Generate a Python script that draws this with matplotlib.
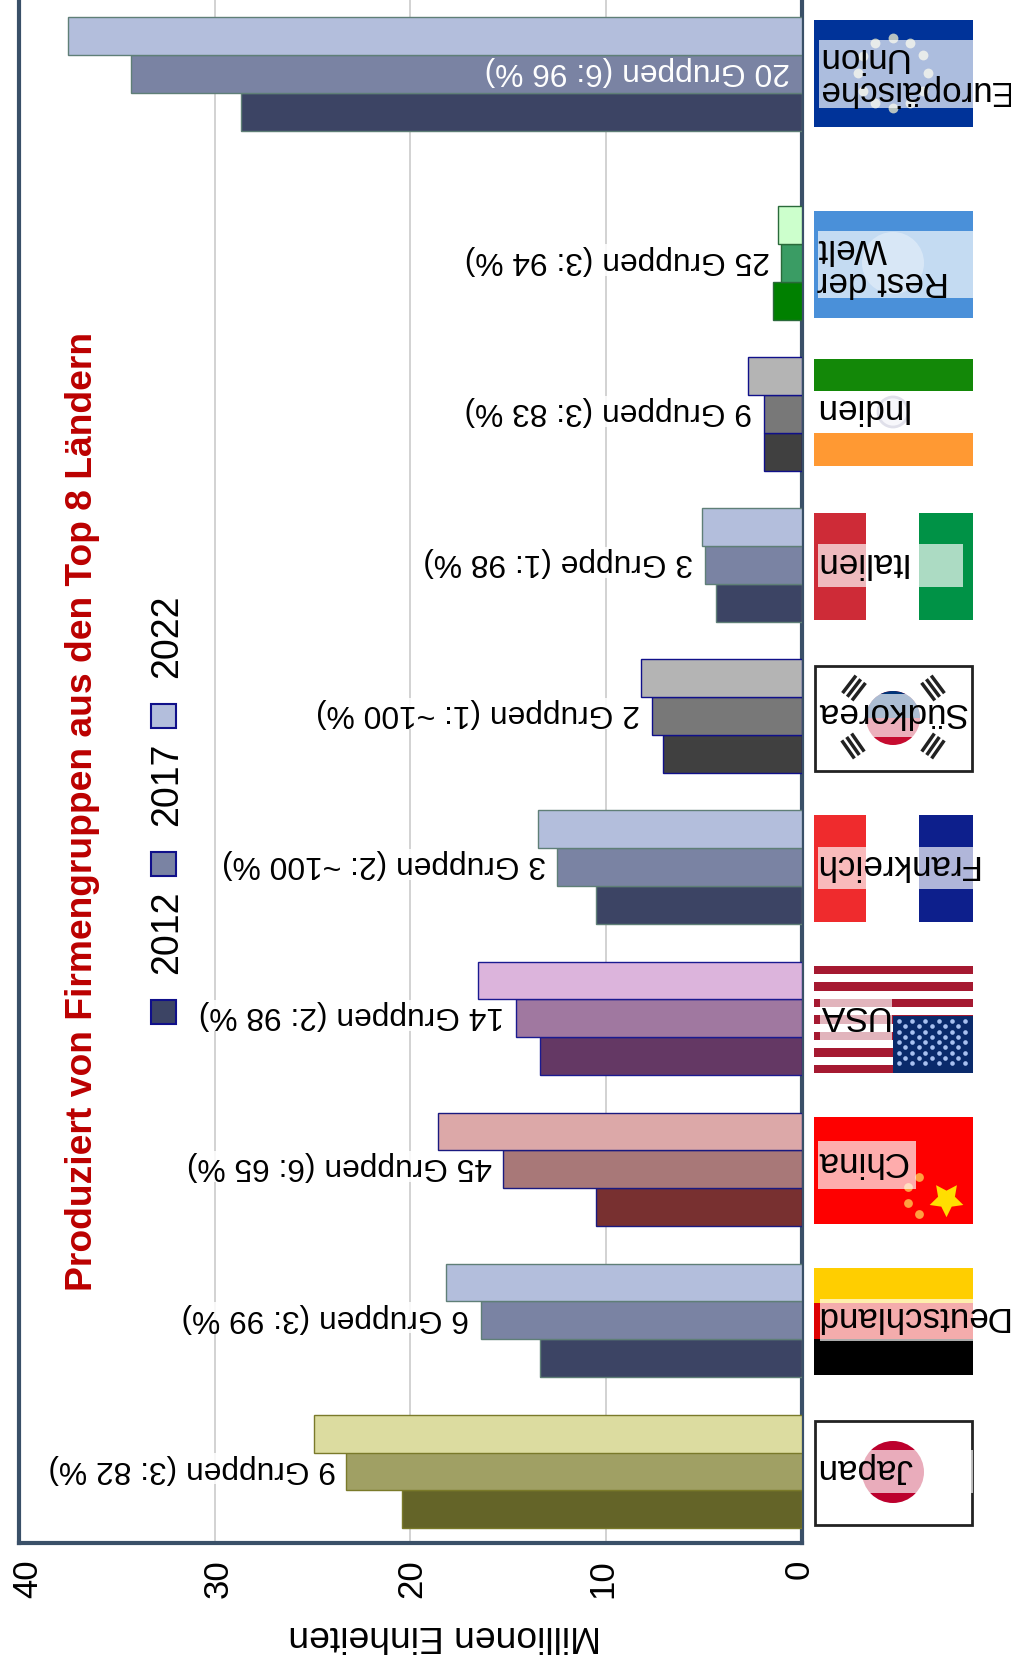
import numpy as np
import matplotlib
matplotlib.use("Agg")
import matplotlib.pyplot as plt
from matplotlib.patches import Rectangle, Circle, Wedge
from matplotlib.transforms import ScaledTranslation

plt.rcParams['font.family'] = ['Liberation Sans', 'DejaVu Sans']

countries = ["Japan", "Deutschland", "China", "USA", "Frankreich", "Südkorea",
             "Italien", "Indien", "Rest der\nWelt", "Europäische\nUnion"]
positions = [0, 1, 2, 3, 4, 5, 6, 7, 8, 9.25]
years = ["2012", "2017", "2022"]
v2012 = [20.45, 13.4, 10.5, 13.4, 10.5, 7.1, 4.4, 1.95, 1.5, 28.65]
v2017 = [23.3, 16.4, 15.25, 14.6, 12.5, 7.65, 4.95, 1.95, 1.05, 34.3]
v2022 = [24.95, 18.2, 18.6, 16.55, 13.5, 8.2, 5.1, 2.75, 1.25, 37.5]
group_labels = ["9 Gruppen (3: 82 %)", "6 Gruppen (3: 99 %)", "45 Gruppen (6: 65 %)",
                "14 Gruppen (2: 98 %)", "3 Gruppen (2: ~100 %)", "2 Gruppen (1: ~100 %)",
                "3 Gruppe (1: 98 %)", "9 Gruppen (3: 83 %)", "25 Gruppen (3: 94 %)",
                "20 Gruppen (6: 96 %)"]

BLUE = ["#3c4464", "#7a83a3", "#b3bedc"]
palettes = [["#646428", "#a0a064", "#dcdca0"], BLUE, ["#783030", "#a87878", "#dca8a8"],
            ["#643864", "#a078a0", "#dcb4dc"], BLUE, ["#404040", "#787878", "#b4b4b4"],
            BLUE, ["#404040", "#787878", "#b4b4b4"], ["#008000", "#3a9c64", "#ccffcc"], BLUE]
edges = ["#7a7a2a", "#5f7f77", "#1a1a80", "#1a1a90", "#5f7f77", "#10108a",
         "#5f7f77", "#10108a", "#2a6a3a", "#5f7f77"]

W, H = 1012, 1667
fig = plt.figure(figsize=(W / 100, H / 100), dpi=100, facecolor="white")

# main axes: x 19..802 px, y 0..1543 px
ax = fig.add_axes([19 / W, 1 - 1543 / H, (802 - 19) / W, 1543 / H])
ax.set_xlim(40, 0)
ax.set_ylim(-0.474, 9.74)
ax.set_yticks([])
ax.set_xticks([0, 10, 20, 30, 40])
ax.tick_params(axis="x", length=0, pad=12, labelsize=25, labelrotation=90)
ax.grid(axis="x", color="#cfcfcf", lw=1.3, zorder=0)
ax.set_axisbelow(True)
for s in ["left", "bottom", "right"]:
    ax.spines[s].set_color("#3a5068")
    ax.spines[s].set_linewidth(3)
ax.spines["top"].set_visible(False)

for lab, dx in zip(ax.get_xticklabels(), [-3, -3, 1, 3, 8]):
    lab.set_transform(lab.get_transform() + ScaledTranslation(dx * 1.063 / 100, 0, fig.dpi_scale_trans))

bh = 0.2505
for off, vals, k in zip([-0.25, 0, 0.25], [v2012, v2017, v2022], range(3)):
    ax.barh(np.array(positions) + off, vals, height=bh,
            color=[p[k] for p in palettes], edgecolor=edges, linewidth=1.0, zorder=4)

for i, (p, v, t) in enumerate(zip(positions, v2017, group_labels)):
    inside = i == 9
    ax.annotate(t, xy=(0 if inside else v, p), xytext=(-7 if i == 0 else -8.5, 2),
                textcoords="offset points", rotation=180, fontsize=22.9,
                ha="right", va="center",
                color="white" if inside else "black", zorder=5 if inside else 3,
                bbox=None if inside else dict(fc="white", ec="none", pad=0.5, alpha=0.85))

ax.set_xlabel("Millionen Einheiten", fontsize=26.8, rotation=180)
ax.xaxis.set_label_coords((445 - 19) / 783, -(1635 - 1543) / 1543, transform=ax.transAxes)
ax.xaxis.label.set_va("center")

# overlay in pixel coordinates for flags, title, legend
ov = fig.add_axes([0, 0, 1, 1], facecolor="none")
ov.set_xlim(0, W)
ov.set_ylim(H, 0)
ov.axis("off")

FX0, FX1 = 814, 973


def rect(x0, y0, x1, y1, **kw):
    kw.setdefault("lw", 0)
    ov.add_patch(Rectangle((x0, y0), x1 - x0, y1 - y0, **kw))


# EU
rect(FX0, 20, FX1, 127, fc="#003399")
ang = np.arange(12) * np.pi / 6
ov.scatter(893 + 35 * np.cos(ang), 73 + 35 * np.sin(ang), marker="o", s=50, c="#d8dcc8", lw=0, alpha=0.85)
# RoW
rect(FX0, 211, FX1, 318, fc="#4a90d9")
ov.add_patch(Circle((893, 263), 31, fc="#ffffff", alpha=0.35, lw=0))
# India
rect(FX0, 359, FX1, 391, fc="#138808")
rect(FX0, 391, FX1, 433, fc="#ffffff")
rect(FX0, 433, FX1, 466, fc="#ff9933")
ov.add_patch(Circle((893, 412), 15, fc="#e8e8f4", ec="#a0a0c0", lw=2))
# Italy
rect(FX0, 513, 866, 620, fc="#ce2b37")
rect(866, 513, 919, 620, fc="white")
rect(919, 513, FX1, 620, fc="#009246")
# South Korea
rect(FX0 + 1, 666, FX1 - 1, 771, fc="white", ec="#222222", lw=2)
ov.add_patch(Circle((893, 718), 27, fc="#c60c30", lw=0))
ov.add_patch(Wedge((893, 718), 27, 180, 360, fc="#003478", lw=0))
for cx, cy in [(854, 688), (933, 688), (853, 746), (933, 746)]:
    u = np.array([cx - 893, cy - 718], float)
    u /= np.hypot(*u)
    n = np.array([-u[1], u[0]])
    for d in (-6, 0, 6):
        c = np.array([cx, cy]) + d * u
        a, b = c - 11 * n, c + 11 * n
        ov.plot([a[0], b[0]], [a[1], b[1]], color="#222222", lw=2.5, solid_capstyle="butt")
# France
rect(FX0, 815, 866, 922, fc="#ef2b2d")
rect(866, 815, 919, 922, fc="white")
rect(919, 815, FX1, 922, fc="#0d1f8c")
# USA
rect(FX0, 966, FX1, 1073, fc="#ffffff")
for j in range(13):
    if j % 2 == 0:
        rect(FX0, 966 + j * 8.23, FX1, 966 + (j + 1) * 8.23, fc="#a51931")
rect(893, 1016, FX1, 1073, fc="#0a2a6b")
sx, sy = np.meshgrid(np.arange(899, 973, 13.2), np.arange(1021, 1072, 10.5))
ov.scatter(sx.ravel(), sy.ravel(), s=11, c="#a8c0f0", lw=0)
sx, sy = np.meshgrid(np.arange(905.5, 966, 13.2), np.arange(1026, 1068, 10.5))
ov.scatter(sx.ravel(), sy.ravel(), s=11, c="#a8c0f0", lw=0)
# China
rect(FX0, 1117, FX1, 1224, fc="#fe0000")
ov.scatter([946], [1199], marker=(5, 1, 180), s=650, c="#ffde00", lw=0)
ov.scatter([919, 908, 908, 919], [1177, 1187, 1203, 1214], marker="o", s=40, c="#ffa040", lw=0)
# Germany
rect(FX0, 1268, FX1, 1303, fc="#ffce00")
rect(FX0, 1303, FX1, 1339, fc="#dd0000")
rect(FX0, 1339, FX1, 1375, fc="#000000")
# Japan
rect(FX0 + 1, 1421, FX1 - 1, 1525, fc="white", ec="#222222", lw=2)
ov.add_patch(Circle((893, 1472), 31, fc="#bc002d", lw=0))

# semi-transparent label boxes + names
boxes = [(819, 1450, 973, 1493), (820, 1299, 973, 1341), (818, 1141, 916, 1189),
         (820, 997, 892, 1040), (818, 847, 973, 889), (820, 694, 970, 737),
         (818, 544, 963, 587), (818, 391, 973, 433), (818, 231, 973, 298), (819, 40, 973, 108)]
name_shift = [1, -2, 0, 0, -3, 0, -4, -5, 1, 0]
for name, (x0, y0, x1, y1), dx in zip(countries, boxes, name_shift):
    rect(x0, y0, x1, y1, fc="white", alpha=0.68)
    dy = 0 if "\n" in name else -3.5
    ov.text(816 + dx, (y0 + y1) / 2 + dy, name, rotation=180, ha="left", va="center",
            multialignment="right", fontsize=25.2, color="black", linespacing=1.0, clip_on=False)

# title
ov.text(83, 811, "Produziert von Firmengruppen aus den Top 8 Ländern", rotation=90,
        ha="center", va="center", fontsize=26.8, fontweight="bold", color="#bb0000")

# legend
for yr, col, ys, yt in zip(years, BLUE, [1012, 864, 716], [932, 784, 636]):
    rect(151, ys - 12, 176, ys + 12, fc=col, ec="#10108a", lw=1.5)
    ov.text(167, yt, yr, rotation=90, ha="center", va="center", fontsize=27, color="black")

fig.savefig("out.png", dpi=100)
